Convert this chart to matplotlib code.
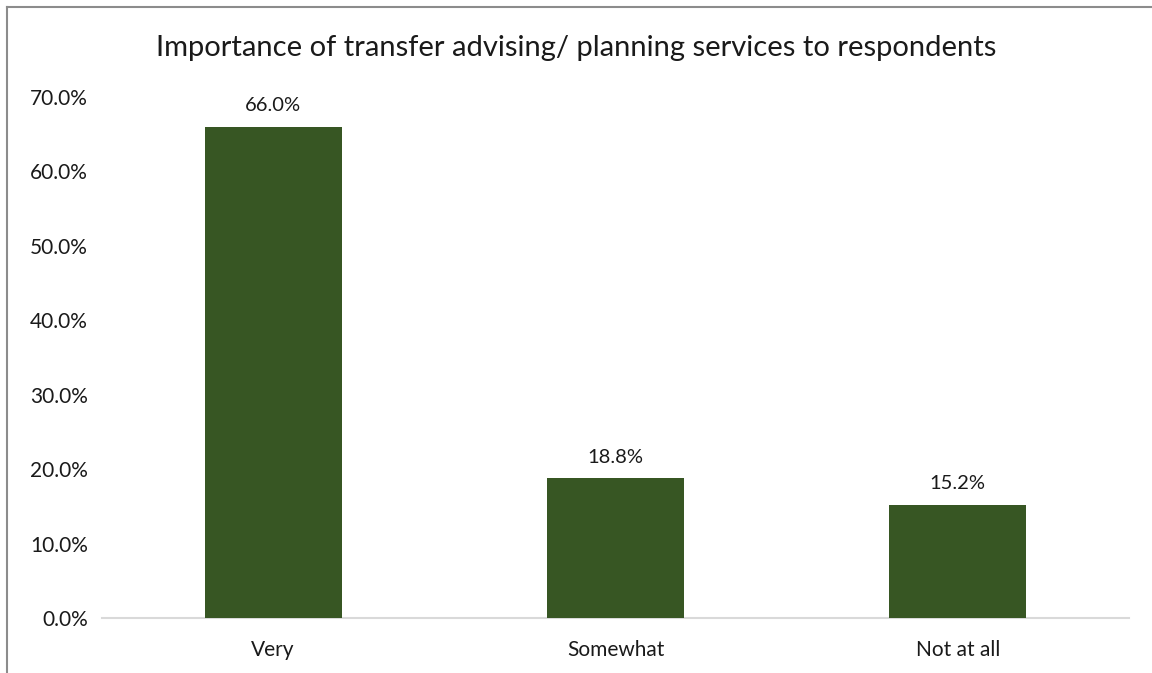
import matplotlib

matplotlib.use("Agg")
import matplotlib.pyplot as plt  # noqa: E402
from matplotlib.ticker import FuncFormatter, MultipleLocator  # noqa: E402

categories = ["Very", "Somewhat", "Not at all"]
shares = [66.0, 18.8, 15.2]  # percent of respondents
value_labels = ["66.0%", "18.8%", "15.2%"]

_BAR = "#375623"
_TITLE = "Importance of transfer advising/ planning services to respondents"

plt.rcParams["font.family"] = ["Lato", "DejaVu Sans"]

fig = plt.figure(figsize=(11.52, 6.73), dpi=100)
ax = fig.add_axes([102 / 1152, 1 - 618 / 673, 1027 / 1152, 521 / 673])

x = range(len(categories))
ax.bar(x, shares, width=0.4, color=_BAR, zorder=3)
for xi, v, lab in zip(x, shares, value_labels):
    ax.annotate(lab, (xi, v), xytext=(0, 9), textcoords="offset points",
                ha="center", va="bottom", fontsize=14.5, color="#1a1a1a")

ax.set_xlim(-0.5, len(categories) - 0.5)
ax.set_ylim(0, 70)
ax.yaxis.set_major_locator(MultipleLocator(10))
ax.yaxis.set_major_formatter(FuncFormatter(lambda v, _: f"{v:.1f}%"))
ax.set_xticks(list(x))
ax.set_xticklabels(categories)
ax.tick_params(axis="both", length=0, labelsize=15, colors="#1a1a1a")
ax.tick_params(axis="y", pad=10)
ax.tick_params(axis="x", pad=16)

for side in ("top", "right", "left"):
    ax.spines[side].set_visible(False)
ax.spines["bottom"].set_color("#d9d9d9")
ax.spines["bottom"].set_linewidth(1.5)

fig.text(0.5, 1 - 48 / 673, _TITLE, ha="center", va="center", fontsize=21,
         color="#1a1a1a")

# chart frame: only the left and top edges fall inside the image
fig.add_artist(plt.Line2D([6.5 / 1152, 6.5 / 1152], [0, 1 - 6.5 / 673],
                          color="#8c8c8c", lw=1.5))
fig.add_artist(plt.Line2D([6.5 / 1152, 1], [1 - 6.5 / 673, 1 - 6.5 / 673],
                          color="#8c8c8c", lw=1.5))

fig.savefig("out.png", dpi=100)
